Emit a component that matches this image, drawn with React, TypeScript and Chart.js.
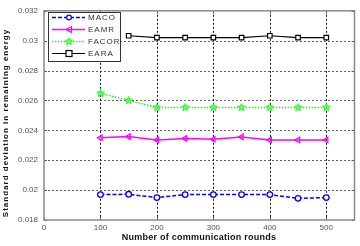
import React, { useEffect, useRef } from "react";
import { Chart, registerables } from "chart.js";

Chart.register(...registerables);

const rounds = [100, 150, 200, 250, 300, 350, 400, 450, 500];
const macoValues = [0.0197, 0.01972, 0.0195, 0.0197, 0.0197, 0.0197, 0.0197, 0.01945, 0.0195];
const eamrValues = [0.0235, 0.02358, 0.02336, 0.02346, 0.0234, 0.02356, 0.02336, 0.02336, 0.02336];
const facorValues = [0.02648, 0.026, 0.02553, 0.02553, 0.02553, 0.02553, 0.02553, 0.02553, 0.02553];
const earaRounds = [150, 200, 250, 300, 350, 400, 450, 500];
const earaValues = [0.03033, 0.0302, 0.0302, 0.0302, 0.0302, 0.03033, 0.0302, 0.0302];
const xTicks = [0, 100, 200, 300, 400, 500];
const yTicks = [0.018, 0.02, 0.022, 0.024, 0.026, 0.028, 0.03, 0.032];
const yTickLabels = ["0.018", "0.02", "0.022", "0.024", "0.026", "0.028", "0.03", "0.032"];
const seriesNames = ["MACO", "EAMR", "FACOR", "EARA"];
const xTitle = "Number of communication rounds";
const yTitle = "Standard deviation in remaining energy";

const FONT = "Arial, 'Liberation Sans', sans-serif";
const GREEN = "#22f022";

function makeStar(): HTMLCanvasElement {
  const c = document.createElement("canvas");
  c.width = 9;
  c.height = 9;
  const ctx = c.getContext("2d")!;
  ctx.beginPath();
  for (let i = 0; i < 10; i++) {
    const r = i % 2 === 0 ? 4 : 1.8;
    const a = -Math.PI / 2 + (i * Math.PI) / 5;
    const x = 4.5 + r * Math.cos(a);
    const y = 4.5 + r * Math.sin(a);
    if (i === 0) ctx.moveTo(x, y);
    else ctx.lineTo(x, y);
  }
  ctx.closePath();
  ctx.fillStyle = "rgba(90,255,90,0.8)";
  ctx.fill();
  ctx.strokeStyle = GREEN;
  ctx.lineWidth = 1;
  ctx.stroke();
  return c;
}

export default function App() {
  const ref = useRef<HTMLCanvasElement | null>(null);

  useEffect(() => {
    const star = makeStar();
    const drawMarker = (ctx: CanvasRenderingContext2D, i: number, x: number, y: number) => {
      ctx.save();
      ctx.setLineDash([]);
      ctx.lineWidth = 1.2;
      if (i === 0) {
        ctx.strokeStyle = "#0000ff";
        ctx.beginPath();
        ctx.arc(x, y, 2.4, 0, Math.PI * 2);
        ctx.fillStyle = "#fff";
        ctx.fill();
        ctx.stroke();
      } else if (i === 1) {
        ctx.strokeStyle = "#ff00ff";
        ctx.beginPath();
        ctx.moveTo(x - 3, y);
        ctx.lineTo(x + 2.5, y - 3);
        ctx.lineTo(x + 2.5, y + 3);
        ctx.closePath();
        ctx.stroke();
      } else if (i === 2) {
        ctx.drawImage(star, x - 4.5, y - 4.5);
      } else {
        ctx.strokeStyle = "#000";
        ctx.fillStyle = "#fff";
        ctx.fillRect(x - 3, y - 3, 6, 6);
        ctx.strokeRect(x - 3, y - 3, 6, 6);
      }
      ctx.restore();
    };

    const gridPlugin = {
      id: "mgrid",
      beforeDatasetsDraw(chart: any) {
        const { ctx, chartArea: a, scales } = chart;
        ctx.save();
        ctx.lineWidth = 1;
        ctx.strokeStyle = "#666";
        ctx.setLineDash([2, 2]);
        for (const v of yTicks) {
          if (v <= 0.0181 || v >= 0.0319) continue;
          const y = Math.round(scales.y.getPixelForValue(v)) + 0.5;
          ctx.beginPath();
          ctx.moveTo(a.left, y);
          ctx.lineTo(a.right, y);
          ctx.stroke();
        }
        ctx.strokeStyle = "#111";
        for (const v of xTicks) {
          if (v <= 0) continue;
          const x = Math.round(scales.x.getPixelForValue(v)) + 0.5;
          ctx.beginPath();
          ctx.moveTo(x, a.top);
          ctx.lineTo(x, a.bottom);
          ctx.stroke();
        }
        ctx.restore();
      },
      afterDatasetsDraw(chart: any) {
        const { ctx, chartArea: a, scales } = chart;
        ctx.save();
        // inner tick marks
        ctx.strokeStyle = "#555";
        ctx.lineWidth = 1;
        for (const v of xTicks) {
          const x = Math.round(scales.x.getPixelForValue(v)) + 0.5;
          ctx.beginPath();
          ctx.moveTo(x, a.bottom);
          ctx.lineTo(x, a.bottom - 3);
          ctx.moveTo(x, a.top);
          ctx.lineTo(x, a.top + 3);
          ctx.stroke();
        }
        for (const v of yTicks) {
          const y = Math.round(scales.y.getPixelForValue(v)) + 0.5;
          ctx.beginPath();
          ctx.moveTo(a.left, y);
          ctx.lineTo(a.left + 3, y);
          ctx.moveTo(a.right, y);
          ctx.lineTo(a.right - 3, y);
          ctx.stroke();
        }
        // frame
        ctx.strokeStyle = "#8a8a8a";
        ctx.lineWidth = 1.5;
        ctx.strokeRect(a.left, a.top, a.right - a.left, a.bottom - a.top);
        // legend
        const lx = 48, ly = 12, lw = 72, lh = 49;
        ctx.fillStyle = "#fff";
        ctx.fillRect(lx, ly, lw, lh);
        ctx.strokeStyle = "#333";
        ctx.lineWidth = 1;
        ctx.strokeRect(lx + 0.5, ly + 0.5, lw, lh);
        const colors = ["#0000ff", "#ff00ff", GREEN, "#000000"];
        const dashes = [[4, 2], [], [1.5, 1.5], []];
        for (let i = 0; i < 4; i++) {
          const y = ly + 5.5 + i * 12;
          ctx.strokeStyle = colors[i];
          ctx.lineWidth = i === 3 ? 1.2 : 1.5;
          ctx.setLineDash(dashes[i]);
          ctx.beginPath();
          ctx.moveTo(lx + 4, y);
          ctx.lineTo(lx + 37, y);
          ctx.stroke();
          drawMarker(ctx, i, lx + 21, y);
          ctx.fillStyle = "#333";
          ctx.font = `8px ${FONT}`;
          (ctx as any).letterSpacing = "1px";
          ctx.textBaseline = "middle";
          ctx.textAlign = "left";
          ctx.fillText(seriesNames[i], lx + 40, y + 0.5);
          (ctx as any).letterSpacing = "0px";
        }
        // axis titles
        ctx.fillStyle = "#111";
        ctx.textAlign = "center";
        ctx.textBaseline = "middle";
        ctx.font = `bold 9px ${FONT}`;
        (ctx as any).letterSpacing = "0.25px";
        ctx.fillText(xTitle, 199, 238);
        ctx.font = `bold 8px ${FONT}`;
        (ctx as any).letterSpacing = "1px";
        ctx.translate(5.5, 123);
        ctx.rotate(-Math.PI / 2);
        ctx.fillText(yTitle, 0, 0);
        ctx.restore();
      },
    };

    const tickFont = { family: FONT, size: 8 };
    const chart = new Chart(ref.current!, {
      type: "line",
      data: {
        datasets: [
          {
            label: seriesNames[0],
            data: rounds.map((r, i) => ({ x: r, y: macoValues[i] })),
            borderColor: "#0000ff",
            borderWidth: 1.5,
            borderDash: [4, 2],
            pointStyle: "circle",
            pointRadius: 2.8,
            pointBorderWidth: 1.3,
            pointBackgroundColor: "#fff",
            pointBorderColor: "#0000ff",
          },
          {
            label: seriesNames[1],
            data: rounds.map((r, i) => ({ x: r, y: eamrValues[i] })),
            borderColor: "#ff00ff",
            borderWidth: 1.5,
            pointStyle: "triangle",
            rotation: -90,
            pointRadius: 3.2,
            pointBorderWidth: 1.2,
            pointBackgroundColor: "rgba(255,255,255,0)",
            pointBorderColor: "#ff00ff",
          },
          {
            label: seriesNames[2],
            data: rounds.map((r, i) => ({ x: r, y: facorValues[i] })),
            borderColor: GREEN,
            borderWidth: 1.5,
            borderDash: [1.5, 1.5],
            pointStyle: star as any,
            pointRadius: 4,
          },
          {
            label: seriesNames[3],
            data: earaRounds.map((r, i) => ({ x: r, y: earaValues[i] })),
            borderColor: "#000000",
            borderWidth: 1.2,
            pointStyle: "rect",
            pointRadius: 3.2,
            pointBorderWidth: 1.2,
            pointBackgroundColor: "#fff",
            pointBorderColor: "#000",
          },
        ] as any,
      },
      options: {
        animation: false,
        responsive: false,
        maintainAspectRatio: false,
        layout: { padding: { top: 7, right: 5, left: 0, bottom: 0 } },
        plugins: { legend: { display: false }, tooltip: { enabled: false } },
        elements: { line: { tension: 0 } },
        scales: {
          x: {
            type: "linear",
            min: 0,
            max: 550,
            afterBuildTicks: (s: any) => {
              s.ticks = xTicks.map((v) => ({ value: v }));
            },
            afterFit: (s: any) => {
              s.height = 26;
            },
            grid: { display: false, drawTicks: false },
            border: { display: false },
            ticks: { font: tickFont, color: "#555", padding: 3, maxRotation: 0 },
            title: { display: false, text: xTitle },
          },
          y: {
            type: "linear",
            min: 0.018,
            max: 0.032,
            afterBuildTicks: (s: any) => {
              s.ticks = yTicks.map((v) => ({ value: v }));
            },
            afterFit: (s: any) => {
              s.width = 44;
            },
            grid: { display: false, drawTicks: false },
            border: { display: false },
            ticks: {
              font: tickFont,
              color: "#555",
              padding: 6,
              callback: (v: any) => {
                const idx = yTicks.findIndex((t) => Math.abs(t - Number(v)) < 1e-6);
                return idx >= 0 ? yTickLabels[idx] : "";
              },
            },
            title: { display: false, text: yTitle },
          },
        },
      } as any,
      plugins: [gridPlugin],
    });
    return () => chart.destroy();
  }, []);

  return (
    <div style={{ position: "fixed", left: 0, top: 0, width: 360, height: 246, background: "#fff" }}>
      <canvas ref={ref} width={360} height={246} style={{ width: 360, height: 246, display: "block" }} />
    </div>
  );
}
